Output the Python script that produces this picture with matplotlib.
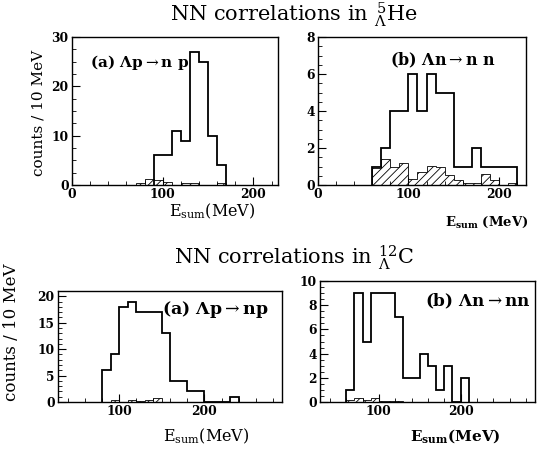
import numpy as np
import matplotlib
matplotlib.use("Agg")
import matplotlib.pyplot as plt

plt.rcParams['font.family'] = ['DejaVu Serif']
plt.rcParams['mathtext.fontset'] = 'dejavuserif'
plt.rcParams['hatch.linewidth'] = 0.6

# 5He, (a) Lambda p -> n p, 10 MeV bins
he_a_edges = list(range(90, 180, 10))
he_a_counts = [6, 6, 11, 9, 27, 25, 10, 4]
he_a_bg_edges = list(range(70, 180, 10))
he_a_bg = [0.4, 1.2, 1.0, 0.6, 0.1, 0.5, 0.5, 0.1, 0.1, 0.5]

# 5He, (b) Lambda n -> n n
he_b_edges = list(range(60, 230, 10))
he_b_counts = [1, 2, 4, 4, 6, 4, 6, 5, 5, 1, 1, 2, 1, 1, 1, 1]
he_b_bg = [0.9, 1.4, 1.0, 1.2, 0.35, 0.7, 1.05, 0.95, 0.55, 0.25,
           0.13, 0.13, 0.6, 0.27, 0.0, 0.12]

# 12C, (a) Lambda p -> n p
c_a_edges = list(range(80, 250, 10))
c_a_counts = [6, 9, 18, 19, 17, 17, 17, 13, 4, 4, 2, 2, 0, 0, 0, 1]
c_a_bg_edges = list(range(90, 160, 10))
c_a_bg = [0.3, 0.05, 0.3, 0.15, 0.3, 0.75]

# 12C, (b) Lambda n -> n n
c_b_edges = list(range(60, 220, 10))
c_b_counts = [1, 9, 5, 9, 9, 9, 7, 2, 2, 4, 3, 1, 3, 0, 2]
c_b_bg_edges = list(range(60, 140, 10))
c_b_bg = [0.15, 0.35, 0.15, 0.3, 0.05, 0.1, 0.1]

W, H = 537, 453
fig = plt.figure(figsize=(W / 100, H / 100), dpi=100)


def box(x0, y0, x1, y1):
    return [x0 / W, 1 - y1 / H, (x1 - x0) / W, (y1 - y0) / H]


def px(x, y):
    return x / W, 1 - y / H


def style(ax, xlim, ylim, ymaj, ymin, xmaj=100, xmin=20):
    ax.set_xlim(*xlim)
    ax.set_ylim(*ylim)
    ax.xaxis.set_major_locator(matplotlib.ticker.MultipleLocator(xmaj))
    ax.xaxis.set_minor_locator(matplotlib.ticker.MultipleLocator(xmin))
    ax.yaxis.set_major_locator(matplotlib.ticker.MultipleLocator(ymaj))
    ax.yaxis.set_minor_locator(matplotlib.ticker.MultipleLocator(ymin))
    ax.tick_params(which='both', direction='in', top=False, right=False,
                   labelsize=8.8, pad=2.5)
    ax.tick_params(which='major', length=6, width=0.8)
    ax.tick_params(which='minor', length=3, width=0.6)
    for lab in ax.get_xticklabels() + ax.get_yticklabels():
        lab.set_fontweight('bold')
    for sp in ax.spines.values():
        sp.set_linewidth(1.0)


def hist(ax, edges, counts, bg_edges, bg):
    ax.stairs(bg, bg_edges, baseline=0, fill=False, hatch='////',
              color='black', lw=0.6)
    ax.stairs(counts, edges, baseline=0, color='black', lw=1.3)


# top row
ax1 = fig.add_axes(box(72, 37, 278, 185))
hist(ax1, he_a_edges, he_a_counts, he_a_bg_edges, he_a_bg)
style(ax1, (0, 227), (0, 30), 10, 2.5)
ax1.text(0.087, 0.83, r'(a) $\mathbf{\Lambda}$p$\rightarrow$n p', transform=ax1.transAxes,
         fontsize=11, fontweight='bold', va='center')
fig.text(*px(212, 211), r'E$_{\mathrm{sum}}$(MeV)', fontsize=11.5,
         ha='center', va='center')
fig.text(*px(39, 113), 'counts / 10 MeV', fontsize=11, rotation=90,
         ha='center', va='center')

ax2 = fig.add_axes(box(318, 37, 526, 185))
hist(ax2, he_b_edges, he_b_counts, he_b_edges, he_b_bg)
style(ax2, (0, 230), (0, 8), 2, 0.5)
ax2.text(0.346, 0.845, r'(b) $\mathbf{\Lambda}$n$\rightarrow$n n', transform=ax2.transAxes,
         fontsize=11.5, fontweight='bold', va='center')
fig.text(*px(487, 222), r'$\mathbf{E_{sum}}$ (MeV)', fontsize=9.5,
         fontweight='bold', ha='center', va='center')

fig.text(*px(294, 21), r'NN correlations in $^{\,5}_{\Lambda}$He',
         ha='center', va='baseline', fontsize=15)

# bottom row
ax3 = fig.add_axes(box(58, 291, 282, 402))
hist(ax3, c_a_edges, c_a_counts, c_a_bg_edges, c_a_bg)
style(ax3, (28, 291), (0, 21), 5, 1)
ax3.text(0.464, 0.83, r'(a) $\mathbf{\Lambda}$p$\rightarrow$np', transform=ax3.transAxes,
         fontsize=12.5, fontweight='bold', va='center')
fig.text(*px(206, 436), r'E$_{\mathrm{sum}}$(MeV)', fontsize=11.5,
         ha='center', va='center')
fig.text(*px(12, 332), 'counts / 10 MeV', fontsize=12, rotation=90,
         ha='center', va='center')

ax4 = fig.add_axes(box(320, 281, 535, 402))
hist(ax4, c_b_edges, c_b_counts, c_b_bg_edges, c_b_bg)
style(ax4, (28, 291), (0, 10), 2, 0.5)
ax4.text(0.488, 0.83, r'(b) $\mathbf{\Lambda}$n$\rightarrow$nn', transform=ax4.transAxes,
         fontsize=12.2, fontweight='bold', va='center')
fig.text(*px(455, 436), r'$\mathbf{E_{sum}}$(MeV)', fontsize=11,
         fontweight='bold', ha='center', va='center')

fig.text(*px(294, 264), r'NN correlations in $^{12}_{\Lambda}$C',
         ha='center', va='baseline', fontsize=15)

fig.savefig('out.png', dpi=100)
